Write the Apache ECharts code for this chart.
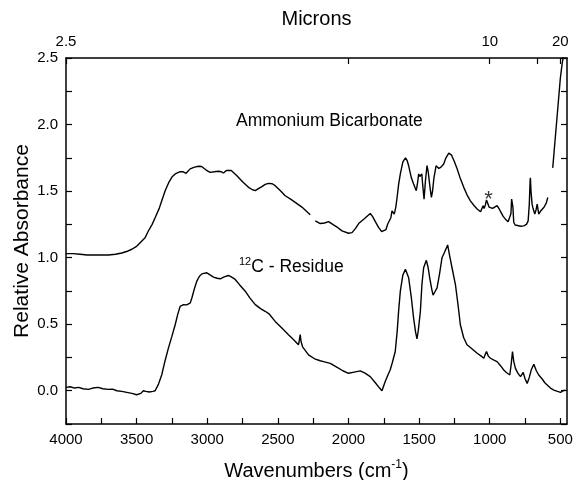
<!DOCTYPE html>
<html>
<head>
<meta charset="utf-8">
<script src="https://cdn.jsdelivr.net/npm/echarts@6/dist/echarts.min.js"></script>
<style>
html,body{margin:0;padding:0;background:#fff;}
#chart{width:573px;height:480px;}
</style>
</head>
<body>
<div id="chart"></div>
<script>
// ---- Data ----
// Ammonium Bicarbonate spectrum (null = gap in the trace)
const upperWavenumbers = [4000,3950,3900,3850,3800,3750,3700,3650,3605,3560,3534,3500,3463,3440,3417,3390,3369,3340,3322,3298,3270,3250,3227,3192,3170,3150,3121,3090,3062,3040,3010,2980,2950,2921,2900,2885,2865,2854,2830,2790,2750,2708,2680,2660,2635,2613,2590,2566,2540,2519,2480,2448,2410,2377,2330,2271,2255,2235,2200,2170,2141,2106,2075,2046,2000,1975,1950,1928,1890,1846,1830,1810,1786,1765,1751,1735,1723,1710,1700,1692,1684,1676,1665,1656,1645,1633,1615,1597,1585,1574,1555,1539,1520,1510,1503,1495,1488,1481,1475,1465,1455,1444,1435,1422,1413,1405,1395,1380,1374,1360,1345,1326,1310,1290,1270,1250,1231,1210,1184,1160,1137,1110,1089,1065,1054,1047,1040,1030,1023,1015,1005,995,980,965,948,935,924,905,889,870,858,850,845,840,836,830,820,806,780,759,740,728,720,714,712,708,700,695,681,672,664,658,653,640,630,617,600,589,572,554,540,520,500,487,476];
const upperAbsorbance = [1.03,1.03,1.025,1.02,1.02,1.02,1.02,1.025,1.035,1.05,1.063,1.085,1.125,1.15,1.2,1.25,1.30,1.37,1.427,1.503,1.57,1.605,1.629,1.646,1.645,1.634,1.667,1.68,1.687,1.685,1.66,1.641,1.645,1.649,1.645,1.636,1.655,1.667,1.655,1.616,1.57,1.528,1.51,1.503,1.52,1.533,1.55,1.558,1.555,1.541,1.50,1.465,1.44,1.415,1.38,1.322,null,1.276,1.256,1.26,1.271,1.246,1.225,1.201,1.183,1.188,1.22,1.256,1.29,1.332,1.31,1.27,1.226,1.195,1.183,1.21,1.251,1.26,1.30,1.352,1.34,1.327,1.38,1.452,1.55,1.629,1.72,1.75,1.73,1.69,1.60,1.553,1.503,1.57,1.629,1.61,1.60,1.629,1.55,1.44,1.58,1.692,1.64,1.52,1.452,1.50,1.60,1.69,1.692,1.67,1.68,1.704,1.75,1.785,1.77,1.72,1.667,1.60,1.528,1.47,1.427,1.39,1.365,1.345,1.339,1.39,1.37,1.40,1.433,1.41,1.38,1.372,1.37,1.38,1.39,1.37,1.347,1.31,1.289,1.27,1.264,1.33,1.44,1.45,1.38,1.264,1.245,1.239,1.236,1.239,1.25,1.276,1.40,1.58,1.60,1.50,1.40,1.377,1.327,1.36,1.402,1.36,1.327,1.35,1.36,1.377,1.41,1.452,null,1.674,1.85,2.1,2.35,2.46,2.53];

// 12C - Residue spectrum
const lowerWavenumbers = [4000,3970,3940,3910,3880,3842,3810,3771,3740,3700,3670,3640,3605,3570,3534,3500,3487,3470,3452,3435,3410,3385,3369,3345,3322,3300,3275,3250,3227,3210,3192,3168,3145,3133,3120,3109,3090,3074,3055,3038,3003,2980,2956,2930,2908,2880,2850,2830,2802,2770,2731,2700,2660,2620,2590,2560,2519,2470,2425,2390,2354,2348,2342,2336,2325,2283,2240,2200,2177,2129,2080,2040,2000,1960,1916,1880,1846,1810,1780,1763,1740,1720,1705,1690,1669,1655,1645,1633,1615,1597,1585,1574,1555,1539,1525,1515,1505,1491,1480,1468,1449,1437,1425,1410,1401,1390,1373,1355,1338,1320,1298,1285,1267,1243,1225,1208,1185,1161,1120,1089,1060,1042,1033,1023,1010,995,970,948,925,901,880,858,848,839,830,818,800,782,773,763,750,735,720,705,688,670,653,630,610,593,570,546,520,499,480,464];
const lowerAbsorbance = [0.025,0.03,0.02,0.025,0.015,0.01,0.02,0.025,0.015,0.01,0.012,0.0,-0.005,-0.012,-0.02,-0.03,-0.035,-0.02,0.0,-0.005,-0.01,-0.005,0.0,0.05,0.12,0.22,0.32,0.41,0.496,0.57,0.634,0.647,0.645,0.64,0.66,0.697,0.77,0.823,0.86,0.878,0.886,0.87,0.854,0.845,0.841,0.855,0.866,0.855,0.836,0.795,0.748,0.70,0.647,0.615,0.597,0.575,0.521,0.47,0.421,0.385,0.345,0.38,0.421,0.37,0.33,0.27,0.24,0.225,0.219,0.206,0.175,0.15,0.131,0.14,0.149,0.13,0.106,0.06,0.02,0.0,0.07,0.12,0.156,0.21,0.295,0.45,0.60,0.748,0.87,0.912,0.90,0.848,0.70,0.546,0.44,0.39,0.46,0.597,0.80,0.924,0.98,0.93,0.848,0.76,0.718,0.74,0.773,0.88,0.999,1.04,1.095,1.02,0.924,0.798,0.65,0.496,0.40,0.345,0.31,0.282,0.26,0.244,0.27,0.295,0.26,0.244,0.23,0.219,0.19,0.156,0.135,0.118,0.20,0.295,0.22,0.168,0.13,0.106,0.12,0.138,0.09,0.055,0.10,0.16,0.199,0.15,0.118,0.09,0.06,0.043,0.02,0.005,-0.005,-0.013,0.0,0.005];

// Asterisk marker on the upper trace
const starPoint = [1009, 1.43];

// Axis ticks / labels
const bottomTickValues = [4000,3750,3500,3250,3000,2750,2500,2250,2000,1750,1500,1250,1000,750,500];
const bottomLabelValues = [4000,3500,3000,2500,2000,1500,1000,500];
const micronTickValues = [2.5,5,10,15,20];
const micronLabelValues = [2.5,10,20];

const xMin = 453, xMax = 4000;
const yMin = -0.25, yMax = 2.5;

function zip(xs, ys){ return xs.map((x,i)=>[x, ys[i]===null ? '-' : ys[i]]); }

const FONT = 'Liberation Sans, Arial, sans-serif';
const axisLineStyle = {color:'#000', width:1.5};

const chart = echarts.init(document.getElementById('chart'));
chart.setOption({
  backgroundColor:'#fff',
  animation:false,
  textStyle:{fontFamily:FONT},
  grid:{left:66, right:6, top:58, bottom:56, containLabel:false, outerBoundsMode:'none'},
  title:[
    {text:'Ammonium Bicarbonate', left:231, top:107, textStyle:{fontFamily:FONT, fontSize:17.5, fontWeight:'normal', color:'#000'}},
    {text:'{s|12}{n|C - Residue}', left:234, top:251, textStyle:{fontFamily:FONT, fontSize:17.5, fontWeight:'normal', color:'#000',
      rich:{s:{fontFamily:FONT, fontSize:11, verticalAlign:'top', color:'#000', lineHeight:16}, n:{fontFamily:FONT, fontSize:17.5, color:'#000', lineHeight:22}}}}
  ],
  xAxis:[
    {type:'value', position:'bottom', inverse:true, min:xMin, max:xMax,
     axisLine:{show:true, onZero:false, lineStyle:axisLineStyle},
     axisTick:{show:true, inside:true, length:6, customValues:bottomTickValues, lineStyle:{color:'#000', width:1.2}},
     axisLabel:{show:true, customValues:bottomLabelValues, color:'#000', fontSize:15, fontFamily:FONT, margin:8,
       formatter:function(v){ return String(v); }},
     splitLine:{show:false},
     name:'{a|Wavenumbers (cm}{s|-1}{a|)}', nameLocation:'middle', nameGap:35,
     nameTextStyle:{color:'#000', fontFamily:FONT, fontSize:20,
       rich:{a:{fontFamily:FONT, fontSize:20, color:'#000', lineHeight:24}, s:{fontFamily:FONT, fontSize:12, color:'#000', verticalAlign:'top', lineHeight:16}}}},
    {type:'value', position:'top', inverse:true, min:xMin, max:xMax,
     axisLine:{show:true, onZero:false, lineStyle:axisLineStyle},
     axisTick:{show:true, inside:true, length:6, customValues:micronTickValues.map(m=>10000/m), lineStyle:{color:'#000', width:1.2}},
     axisLabel:{show:true, customValues:micronLabelValues.map(m=>10000/m), color:'#000', fontSize:15, fontFamily:FONT, margin:9,
       formatter:function(v){ const m = 10000/v; return (Math.round(m*10)/10).toString(); }},
     splitLine:{show:false},
     name:'Microns', nameLocation:'middle', nameGap:28,
     nameTextStyle:{color:'#000', fontFamily:FONT, fontSize:20}}
  ],
  yAxis:[
    {type:'value', position:'left', min:yMin, max:yMax, interval:0.25,
     axisLine:{show:true, onZero:false, lineStyle:axisLineStyle},
     axisTick:{show:true, inside:true, length:6, lineStyle:{color:'#000', width:1.2}},
     axisLabel:{color:'#000', fontSize:15, fontFamily:FONT, margin:8,
       formatter:function(v){ const t=v*2; return (v>=0 && Math.abs(t-Math.round(t))<1e-6) ? v.toFixed(1) : ''; }},
     splitLine:{show:false},
     name:'Relative Absorbance', nameLocation:'middle', nameGap:33, nameMoveOverlap:false,
     nameTextStyle:{color:'#000', fontFamily:FONT, fontSize:21}},
    {type:'value', position:'right', min:yMin, max:yMax, interval:0.25,
     axisLine:{show:true, onZero:false, lineStyle:axisLineStyle},
     axisTick:{show:true, inside:true, length:6, lineStyle:{color:'#000', width:1.2}},
     axisLabel:{show:false}, splitLine:{show:false}}
  ],
  series:[
    {type:'line', xAxisIndex:0, yAxisIndex:0, data:zip(upperWavenumbers, upperAbsorbance), showSymbol:false, symbol:'none',
     lineStyle:{color:'#000', width:1.4}, clip:true, connectNulls:false},
    {type:'line', xAxisIndex:0, yAxisIndex:0, data:zip(lowerWavenumbers, lowerAbsorbance), showSymbol:false, symbol:'none',
     lineStyle:{color:'#000', width:1.4}, clip:true},
    {type:'scatter', xAxisIndex:0, yAxisIndex:0, data:[starPoint], symbolSize:0,
     label:{show:true, position:'inside', formatter:'*', color:'#000', fontSize:22, fontFamily:FONT}}
  ]
});
</script>
</body>
</html>
